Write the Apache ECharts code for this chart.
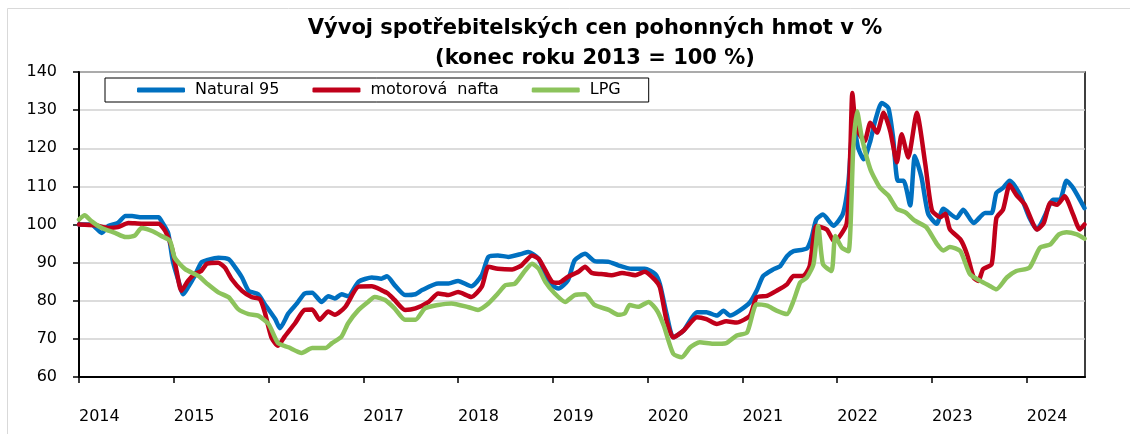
<!DOCTYPE html>
<html>
<head>
<meta charset="utf-8">
<script src="https://cdn.jsdelivr.net/npm/echarts@6/dist/echarts.min.js"></script>
<style>
  html, body { margin: 0; padding: 0; background: #fff; }
  #chart { width: 1130px; height: 434px; }
</style>
</head>
<body>
<div id="chart"></div>
<script>
// vyvoj cen pohonnych hmot, konec 2013 = 100
const seriesNames = ['Natural 95', 'motorová  nafta', 'LPG'];

const n95Years = [2014.00, 2014.13, 2014.24, 2014.31, 2014.41, 2014.49, 2014.56, 2014.66, 2014.84, 2014.87, 2014.94, 2014.99,
  2015.05, 2015.10, 2015.15, 2015.22, 2015.29, 2015.36, 2015.47, 2015.58, 2015.65, 2015.72, 2015.79, 2015.89, 2015.96,
  2016.07, 2016.12, 2016.21, 2016.30, 2016.38, 2016.46, 2016.56, 2016.63, 2016.70, 2016.77, 2016.84, 2016.95,
  2017.09, 2017.19, 2017.25, 2017.33, 2017.44, 2017.55, 2017.62, 2017.79, 2017.90, 2018.00,
  2018.14, 2018.25, 2018.32, 2018.42, 2018.53, 2018.67, 2018.74, 2018.85, 2018.92, 2018.99,
  2019.06, 2019.16, 2019.23, 2019.34, 2019.44, 2019.59, 2019.69, 2019.83, 2019.97,
  2020.08, 2020.13, 2020.20, 2020.27, 2020.38, 2020.52, 2020.62, 2020.73, 2020.80, 2020.87, 2020.97,
  2021.08, 2021.15, 2021.22, 2021.33, 2021.40, 2021.47, 2021.54, 2021.68, 2021.73, 2021.78, 2021.85, 2021.96,
  2022.06, 2022.12, 2022.17, 2022.22, 2022.28, 2022.35, 2022.40, 2022.47, 2022.54, 2022.59, 2022.64, 2022.70,
  2022.77, 2022.82, 2022.89, 2022.96, 2023.05, 2023.12, 2023.26, 2023.33, 2023.44, 2023.56, 2023.63, 2023.68,
  2023.75, 2023.82, 2023.93, 2024.03, 2024.11, 2024.19, 2024.28, 2024.35, 2024.42, 2024.49, 2024.61];
const n95Values = [100, 100, 97.8, 99.6, 100.4, 102.2, 102.2, 101.9, 101.9, 100.9, 97.8, 90.4,
  85.2, 81.7, 83.5, 86.5, 90, 90.7, 91.3, 90.9, 88.7, 86.1, 82.6, 81.7, 79.1,
  75.2, 72.8, 76.7, 79.3, 81.9, 82.1, 79.7, 81.2, 80.6, 81.7, 81.2, 85,
  86.1, 85.8, 86.4, 84.1, 81.5, 81.7, 82.8, 84.5, 84.5, 85.2,
  83.8, 86.7, 91.5, 91.9, 91.5, 92.3, 92.8, 91, 87.1, 84.1,
  83.2, 85.4, 90.6, 92.3, 90.4, 90.2, 89.3, 88.4, 88.4,
  87, 84.3, 76.5, 70.4, 72.2, 77, 77, 76.1, 77.4, 76.1, 77.4,
  79.6, 82.6, 86.5, 88.3, 89.1, 91.7, 93, 93.7, 96.5, 101.3, 102.6, 99.7,
  102.8, 111.5, 127.1, 120.2, 117.1, 121.9, 127.1, 131.9, 130.6, 122.8, 111.5, 111.5,
  105, 118, 112.3, 102.8, 100.2, 104.1, 101.7, 103.9, 100.4, 103, 103, 108.3,
  109.6, 111.5, 107.8, 101.7, 98.7, 102.2, 106.5, 106.5, 111.5, 109.6, 104.3];

const naftaYears = [2014.00, 2014.17, 2014.31, 2014.41, 2014.52, 2014.66, 2014.84, 2014.91, 2014.98,
  2015.03, 2015.08, 2015.15, 2015.22, 2015.29, 2015.35, 2015.47, 2015.54, 2015.61, 2015.72, 2015.82, 2015.91, 2015.96,
  2016.03, 2016.10, 2016.17, 2016.28, 2016.38, 2016.46, 2016.54, 2016.63, 2016.70, 2016.81, 2016.95,
  2017.09, 2017.19, 2017.26, 2017.33, 2017.44, 2017.55, 2017.69, 2017.79, 2017.90, 2018.00,
  2018.14, 2018.25, 2018.32, 2018.42, 2018.57, 2018.67, 2018.78, 2018.85, 2018.92, 2018.99,
  2019.06, 2019.16, 2019.27, 2019.34, 2019.41, 2019.51, 2019.62, 2019.73, 2019.87, 2019.97,
  2020.08, 2020.13, 2020.20, 2020.27, 2020.38, 2020.52, 2020.62, 2020.73, 2020.83, 2020.94,
  2021.08, 2021.15, 2021.26, 2021.36, 2021.47, 2021.54, 2021.64, 2021.71, 2021.78, 2021.89, 2021.97,
  2022.10, 2022.14, 2022.16, 2022.20, 2022.29, 2022.35, 2022.42, 2022.49, 2022.56, 2022.63, 2022.68,
  2022.75, 2022.84, 2022.93, 2023.00, 2023.09, 2023.14, 2023.19, 2023.30, 2023.37, 2023.44, 2023.49,
  2023.54, 2023.63, 2023.68, 2023.75, 2023.82, 2023.89, 2023.98, 2024.11, 2024.18, 2024.25, 2024.32,
  2024.40, 2024.49, 2024.56, 2024.61];
const naftaValues = [100, 99.8, 99.1, 99.3, 100.4, 100.2, 100.2, 98.3, 93.9,
  87.8, 82.6, 85.2, 87, 87.8, 89.7, 90, 88.7, 85.7, 82.6, 81, 80.4, 77,
  70.4, 68.2, 70.6, 74.1, 77.6, 77.7, 75, 77.2, 76.3, 78.4, 83.7,
  83.8, 82.8, 81.9, 80.2, 77.6, 78, 79.7, 81.9, 81.5, 82.3,
  81, 83.7, 88.9, 88.4, 88.2, 89.3, 91.9, 91, 88, 85,
  84.7, 86.3, 87.6, 88.9, 87.3, 87, 86.7, 87.3, 86.7, 87.6,
  85.4, 83.5, 74.8, 70.4, 72.2, 75.7, 75.2, 73.9, 74.6, 74.3,
  76.1, 80.9, 81.3, 82.6, 84.3, 86.5, 86.5, 89.1, 99.6, 98.7, 95.5,
  100.2, 120.2, 134.5, 125.4, 121.9, 126.7, 124.1, 129.3, 124.5, 116.3, 123.7,
  117.6, 129.3, 115.8, 103.7, 101.9, 102.8, 98.7, 96.1, 92.2, 86.1, 85.2,
  88.3, 89.6, 101.7, 103.9, 110.4, 107.8, 105.2, 98.7, 100.4, 105.7, 105.2,
  107.4, 102.6, 98.7, 100];

const lpgYears = [2014.00, 2014.06, 2014.13, 2014.24, 2014.38, 2014.49, 2014.59, 2014.66, 2014.77, 2014.87, 2014.96,
  2015.01, 2015.12, 2015.26, 2015.36, 2015.47, 2015.58, 2015.68, 2015.79, 2015.89, 2016.00,
  2016.10, 2016.21, 2016.35, 2016.46, 2016.60, 2016.67, 2016.77, 2016.84, 2016.95,
  2017.05, 2017.12, 2017.23, 2017.33, 2017.44, 2017.55, 2017.65, 2017.79, 2017.93,
  2018.11, 2018.21, 2018.32, 2018.42, 2018.50, 2018.60, 2018.71, 2018.78, 2018.85, 2018.92,
  2019.02, 2019.13, 2019.23, 2019.34, 2019.44, 2019.59, 2019.69, 2019.76, 2019.81, 2019.90, 2020.01,
  2020.10, 2020.17, 2020.27, 2020.36, 2020.45, 2020.55, 2020.69, 2020.83, 2020.94,
  2021.05, 2021.15, 2021.26, 2021.36, 2021.47, 2021.54, 2021.61, 2021.68, 2021.75, 2021.80, 2021.85,
  2021.94, 2021.98, 2022.05, 2022.12, 2022.17, 2022.21, 2022.26, 2022.35, 2022.45, 2022.54, 2022.63,
  2022.72, 2022.82, 2022.94, 2023.05, 2023.12, 2023.19, 2023.30, 2023.40, 2023.51, 2023.61, 2023.68,
  2023.79, 2023.89, 2024.03, 2024.14, 2024.25, 2024.34, 2024.42, 2024.53, 2024.61];
const lpgValues = [101.3, 102.4, 100.9, 99.1, 97.8, 96.7, 97.1, 99.1, 98.3, 97, 95.7,
  91.3, 88.3, 86.5, 84.3, 82.2, 80.9, 77.8, 76.5, 76.1, 73.9,
  68.9, 67.8, 66.3, 67.6, 67.6, 68.9, 70.6, 74.1, 77.6,
  79.7, 81, 80.2, 78, 75, 75, 78, 78.9, 79.3,
  78.3, 77.6, 79.3, 81.9, 84.1, 84.5, 88, 89.7, 88.4, 85,
  81.9, 79.7, 81.5, 81.7, 78.9, 77.6, 76.3, 76.7, 78.9, 78.4, 79.7,
  77.4, 73.5, 66.1, 65.2, 67.8, 69.1, 68.7, 68.9, 70.9,
  71.7, 79.1, 78.7, 77.4, 76.5, 80, 84.8, 86.1, 89.6, 99.6, 89.6,
  87.8, 97, 93.9, 93, 120.2, 129.7, 122.8, 114.5, 109.7, 107.6, 104.1,
  103.2, 101, 99.3, 95, 93.2, 94.1, 93, 87, 85.2, 83.9, 83,
  86.1, 87.8, 88.7, 93.9, 94.8, 97.4, 98, 97.4, 96.3];

const yMin = 60, yMax = 140;
const xStart = 2014, xEnd = 2024.615;

function pairs(xs, ys) {
  return xs.map((x, i) => [x, ys[i]]);
}

const font = 'DejaVu Sans';
const chart = echarts.init(document.getElementById('chart'));

let option = {
  backgroundColor: '#fff',
  animation: false,
  title: {
    text: 'Vývoj spotřebitelských cen pohonných hmot v %\n(konec roku 2013 = 100 %)',
    left: 590,
    top: 9,
    textAlign: 'center',
    textStyle: {
      fontFamily: font,
      fontSize: 21,
      fontWeight: 'bold',
      color: '#000',
      lineHeight: 30
    }
  },
  graphic: [{
    type: 'rect',
    silent: true,
    shape: {x: 7.5, y: 8.5, width: 1140, height: 440},
    style: {fill: 'none', stroke: '#d9d9d9', lineWidth: 1}
  }],
  legend: {
    data: seriesNames,
    left: 105,
    top: 78,
    orient: 'horizontal',
    padding: [4, 28, 4, 32],
    itemGap: 33,
    itemWidth: 48,
    itemHeight: 5,
    icon: 'roundRect',
    borderColor: '#000',
    borderWidth: 1,
    backgroundColor: '#fff',
    textStyle: {
      fontFamily: font,
      fontSize: 16,
      color: '#000',
      padding: [0, 0, 0, 5]
    }
  },
  grid: {
    left: 79,
    right: 45,
    top: 72,
    bottom: 57,
    show: true,
    borderColor: '#000',
    borderWidth: 1.5,
    backgroundColor: 'transparent'
  },
  xAxis: {
    type: 'value',
    min: xStart,
    max: xEnd,
    interval: 1,
    axisLine: {lineStyle: {color: '#000', width: 2}},
    axisTick: {show: true, length: 6, lineStyle: {color: '#000', width: 1.5}},
    splitLine: {show: false},
    axisLabel: {
      showMaxLabel: false,
      align: 'left',
      margin: 32,
      fontFamily: font,
      fontSize: 16,
      color: '#000',
      formatter: v => (Math.abs(v - Math.round(v)) < 1e-6 ? String(Math.round(v)) : '')
    }
  },
  yAxis: {
    type: 'value',
    min: yMin,
    max: yMax,
    interval: 10,
    axisLine: {show: true, lineStyle: {color: '#000', width: 2}},
    axisTick: {show: true, length: 6, lineStyle: {color: '#000', width: 1.5}},
    splitLine: {show: true, lineStyle: {color: '#d0d0d0', width: 1.5}},
    axisLabel: {
      margin: 22,
      fontFamily: font,
      fontSize: 16,
      color: '#000'
    }
  },
  series: [
    {
      name: seriesNames[0],
      type: 'line',
      data: pairs(n95Years, n95Values),
      showSymbol: false,
      symbol: 'none',
      smooth: 0.2,
      color: '#0070C0',
      lineStyle: {width: 4.5, color: '#0070C0', cap: 'round', join: 'round'}
    },
    {
      name: seriesNames[1],
      type: 'line',
      data: pairs(naftaYears, naftaValues),
      showSymbol: false,
      symbol: 'none',
      smooth: 0.2,
      color: '#C0001A',
      lineStyle: {width: 4.5, color: '#C0001A', cap: 'round', join: 'round'}
    },
    {
      name: seriesNames[2],
      type: 'line',
      data: pairs(lpgYears, lpgValues),
      showSymbol: false,
      symbol: 'none',
      smooth: 0.2,
      color: '#8CC35C',
      lineStyle: {width: 4.5, color: '#8CC35C', cap: 'round', join: 'round'}
    }
  ]
};

chart.setOption(option);
</script>
</body>
</html>
